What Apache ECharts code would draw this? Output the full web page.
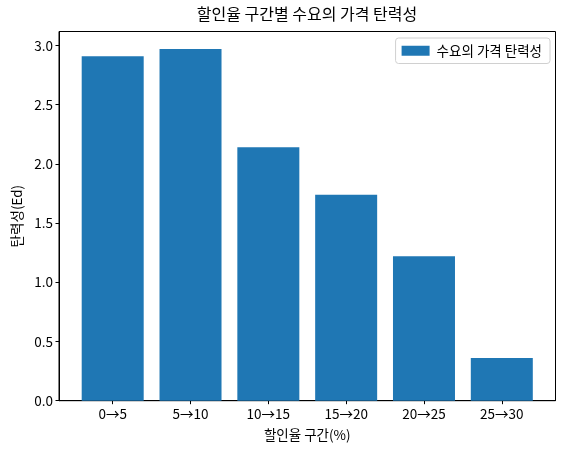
<!DOCTYPE html>
<html><head><meta charset="utf-8">
<script src="https://cdn.jsdelivr.net/npm/echarts@6/dist/echarts.min.js"></script>
<style>html,body{margin:0;padding:0;background:#fff}#c{width:565px;height:455px}</style>
</head><body><div id="c"></div>
<script>
const categories = ['0→5', '5→10', '10→15', '15→20', '20→25', '25→30'];
const elasticity = [2.91, 2.97, 2.14, 1.74, 1.22, 0.36];
const yTicks = [0, 0.5, 1.0, 1.5, 2.0, 2.5, 3.0];
const seriesName = '수요의 가격 탄력성';
const titleText = '할인율 구간별 수요의 가격 탄력성';
const xLabel = '할인율 구간(%)';
const yLabel = '탄력성(Ed)';

const FONT = '"Noto Sans CJK KR", "Noto Sans", sans-serif';
const chart = echarts.init(document.getElementById('c'), null, {renderer: 'canvas'});
const idx = categories.map((_, i) => i);
chart.setOption({
  animation: false,
  textStyle: {fontFamily: FONT, color: '#000'},
  graphic: [{
    type: 'text', x: 307, y: 6,
    style: {text: titleText, font: '16px ' + FONT, fill: '#000', textAlign: 'center'}
  }],
  legend: {
    show: true, right: 15, top: 38, orient: 'vertical',
    data: [seriesName], icon: 'rect', itemWidth: 28, itemHeight: 10,
    padding: [6, 8, 6, 6], itemGap: 5,
    backgroundColor: 'rgba(255,255,255,0.8)', borderColor: '#d0d0d0', borderWidth: 1, borderRadius: 3,
    textStyle: {fontFamily: FONT, fontSize: 13.5, color: '#000', padding: [0, 0, 0, 2]}
  },
  grid: {left: 59, right: 9.5, top: 31.5, bottom: 54.3, show: true, borderColor: '#000', borderWidth: 1, containLabel: false},
  xAxis: {
    type: 'value', min: -0.69, max: 5.69,
    name: xLabel, nameLocation: 'middle', nameGap: 27,
    nameTextStyle: {fontFamily: FONT, fontSize: 13.5, color: '#000'},
    axisLine: {show: true, onZero: false, lineStyle: {color: '#000', width: 1}},
    axisTick: {show: true, length: 3.5, lineStyle: {color: '#000'}, customValues: idx},
    axisLabel: {show: true, margin: 6, fontSize: 13.5, color: '#000', fontFamily: FONT,
      customValues: idx, formatter: v => categories[Math.round(v)]},
    splitLine: {show: false}
  },
  yAxis: {
    type: 'value', min: 0, max: 3.1185,
    name: yLabel, nameLocation: 'middle', nameGap: 34, nameRotate: 90,
    nameTextStyle: {fontFamily: FONT, fontSize: 13.5, color: '#000'},
    axisLine: {show: true, onZero: false, lineStyle: {color: '#000', width: 1}},
    axisTick: {show: true, length: 3.5, lineStyle: {color: '#000'}, customValues: yTicks},
    axisLabel: {show: true, margin: 6, fontSize: 13.5, color: '#000', fontFamily: FONT,
      customValues: yTicks, formatter: v => v.toFixed(1)},
    splitLine: {show: false}
  },
  series: [{
    name: seriesName, type: 'bar', barWidth: 62,
    itemStyle: {color: '#1f77b4'},
    data: elasticity.map((v, i) => [i, v])
  }]
});
</script></body></html>
